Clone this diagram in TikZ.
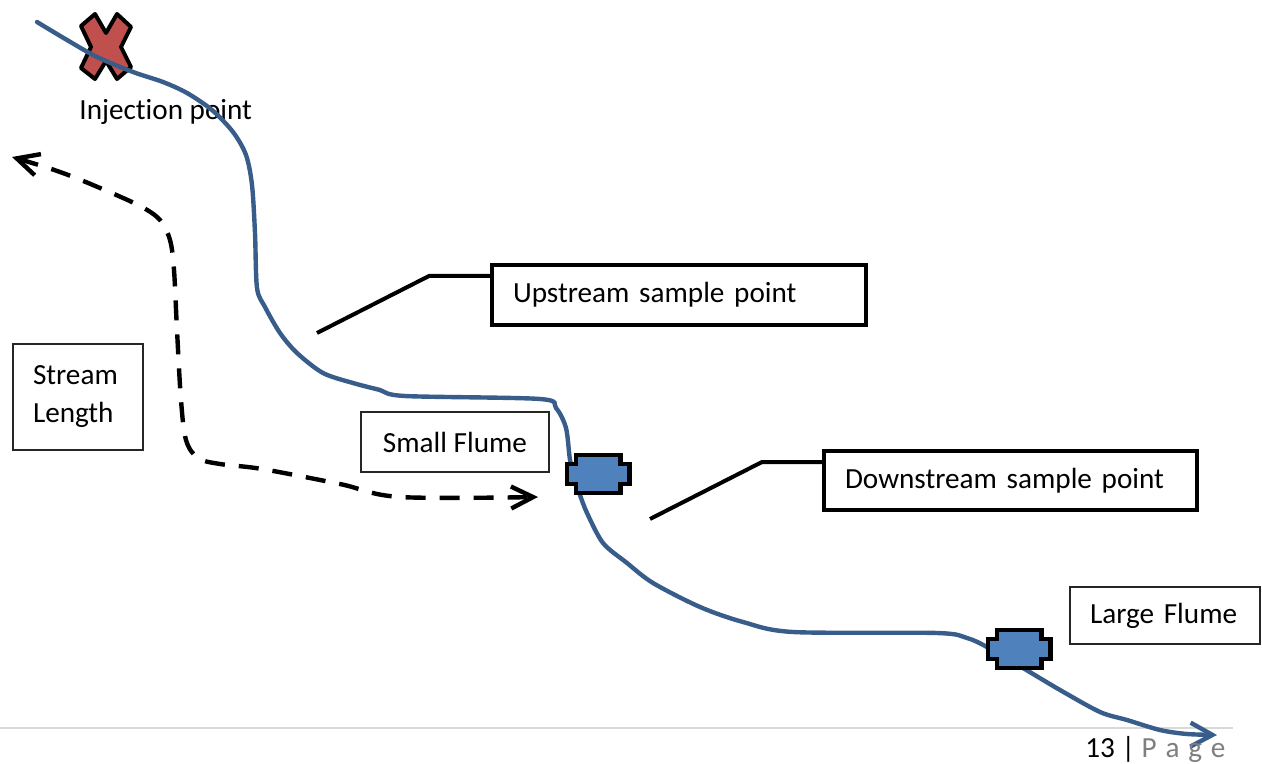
\documentclass[tikz,border=0pt]{standalone}
\usepackage{fontspec}
\setmainfont{Carlito}[Ligatures=NoCommon]
\usepackage{xcolor}
\usepackage{tikz}
\usetikzlibrary{arrows.meta,positioning}

\definecolor{streamblue}{HTML}{385D8A}
\definecolor{flumeblue}{HTML}{4F81BD}
\definecolor{crossred}{HTML}{C0504D}
\definecolor{rulegray}{HTML}{D9D9D9}
\definecolor{pagegray}{HTML}{7F7F7F}

\begin{document}
\begin{tikzpicture}[
  x=0.5pt, y=-0.5pt,
  font=\fontsize{14.6}{19}\selectfont,
  callout/.style={draw, line width=2pt, inner xsep=10.5pt, align=left, minimum height=30pt},
  tag/.style={draw=black!85, line width=0.75pt, inner xsep=10pt},
  leader/.style={line width=2pt},
  stream/.style={streamblue, line width=2.2pt, line cap=round, -{Straight Barb[length=11pt,width=12pt]}},
  dasharrow/.style={line width=2.2pt, dash pattern=on 10pt off 7pt, {Straight Barb[length=11pt,width=11pt]}-{Straight Barb[length=11pt,width=11pt]}},
  flume/.pic={\draw[line width=2.2pt, fill=flumeblue, line join=miter]
    (-22.3,-18.8) -- (22.3,-18.8) -- (22.3,-9.8) -- (31.3,-9.8) -- (31.3,9.8) -- (22.3,9.8)
    -- (22.3,18.8) -- (-22.3,18.8) -- (-22.3,9.8) -- (-31.3,9.8) -- (-31.3,-9.8) -- (-22.3,-9.8) -- cycle;}
]
\useasboundingbox (0,0) rectangle (1262,764);

% page footer rule
\draw[rulegray, line width=1pt] (0,728) -- (1233,728);

% injection point
\coordinate (inject) at (106,47);
\draw[line width=2pt, fill=crossred, line join=round, shift={(inject)}]
  (-25,-21) -- (-11,-33) -- (0,-14) -- (11,-33) -- (25,-20) -- (15,0) -- (25,20)
  -- (11,32) -- (0,14) -- (-11,32) -- (-25,21) -- (-15,0) -- cycle;
\node[anchor=base west, inner sep=0] (injtext) at (79,120) {Injection point};

% stream length
\node[tag, text width=45pt, align=left, minimum height=53pt] (length) at (78,397) {Stream\\Length};
\coordinate (lenstart) at (12,157);
\coordinate (lenend) at (538,497);
\draw[dasharrow] plot[smooth, tension=0.55] coordinates {(lenstart) (60,172) (100,188) (140,206)
  (160,220) (170,240) (174,270) (177,330) (181,400) (186,440) (198,458) (220,464) (262,469) (340,484)
  (400,497) (lenend)};

% callouts
\node[callout, text width=166pt] (upstream) at (679,295) {Upstream sample point};
\coordinate (upbend) at (429,276);
\coordinate (uptip) at (317,333);
\draw[leader] ([yshift=9.5pt]upstream.west) -- (upbend) -- (uptip);

\node[callout, text width=165.5pt, minimum height=29.5pt] (downstream) at (1010.5,480.5) {Downstream sample point};
\coordinate (downbend) at (762,462);
\coordinate (downtip) at (650,519);
\draw[leader] ([yshift=9.25pt]downstream.west) -- (downbend) -- (downtip);

\node[tag, minimum width=94pt, minimum height=30pt] (smalltag) at (455,442) {Small Flume};
\node[tag, text width=75pt, align=left, minimum height=28.5pt] (largetag) at (1165,615.5) {Large Flume};

% the stream
\coordinate (smallflume) at (598,474);
\coordinate (largeflume) at (1019,649);
\coordinate (streamend) at (1217,735);
\draw[stream] plot[smooth, tension=0.5] coordinates {(37,22) (67,40) (97,57) (133,72) (163,82)
  (187,93) (212,110) (233,132) (246,155) (252,185) (255,233) (257,288) (265,307) (280,333)
  (297,353) (323,373) (353,383) (380,390) (405,396) (540,399) (556,408) (566,428) (570,460)
  (575,480) (580,495) (587,513) (603,543) (627,563) (653,583) (700,607) (743,622) (793,632)
  (937,633) (967,638) (987,647) (1023,668) (1060,690) (1100,712) (1127,720) (1160,730)
  (1187,734) (streamend)};

\pic at (smallflume) {flume};
\pic at (largeflume) {flume};

% page number
\node[anchor=base west, inner sep=0] (page) at (1085,757)
  {13 | \textcolor{pagegray}{P\hspace{4.4pt}a\hspace{4.4pt}g\hspace{4.4pt}e}};
\end{tikzpicture}
\end{document}
